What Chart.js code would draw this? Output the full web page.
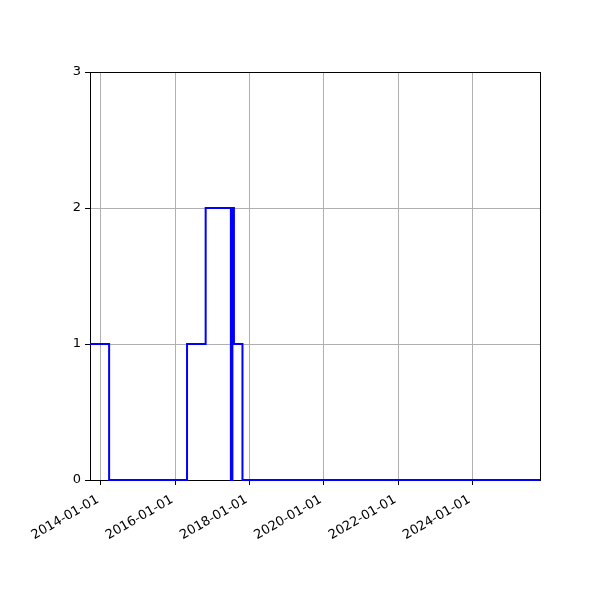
<!DOCTYPE html>
<html>
<head>
<meta charset="utf-8">
<script src="https://cdn.jsdelivr.net/npm/chart.js@4.4.0/dist/chart.umd.min.js"></script>
<style>
    body { margin: 0; background: #ffffff; }
    #stepChart { display: block; }
</style>
</head>
<body>
<canvas id="stepChart" width="600" height="600"></canvas>
<script>
// step data: each value holds from its date until the next date
var stepDates = ['2013-09-15', '2014-03-22', '2016-04-26', '2016-10-26', '2017-07-01', '2017-07-16', '2017-07-31', '2017-10-23', '2025-10-26'];
var stepValues = [1, 0, 1, 2, 0, 2, 1, 0, 0];

// axis ticks
var xTickDates = ['2014-01-01', '2016-01-01', '2018-01-01', '2020-01-01', '2022-01-01', '2024-01-01'];
var yTickValues = [0, 1, 2, 3];
var xMinDate = '2013-09-15';
var xMaxDate = '2025-10-26';

function toMs(d) {
    return Date.parse(d + 'T00:00:00Z');
}

function formatDate(ms) {
    var d = new Date(ms);
    var m = d.getUTCMonth() + 1;
    var day = d.getUTCDate();
    return d.getUTCFullYear() + '-' + (m < 10 ? '0' + m : m) + '-' + (day < 10 ? '0' + day : day);
}

var points = [];
for (var i = 0; i < stepDates.length; i++) {
    points.push({ x: toMs(stepDates[i]), y: stepValues[i] });
}

// black frame round the plot area
var framePlugin = {
    id: 'frame',
    beforeDatasetsDraw: function (chart) {
        var a = chart.chartArea;
        var ctx = chart.ctx;
        ctx.save();
        ctx.strokeStyle = '#000000';
        ctx.lineWidth = 1;
        ctx.strokeRect(Math.round(a.left) + 0.5, Math.round(a.top) + 0.5, Math.round(a.right - a.left), Math.round(a.bottom - a.top));
        ctx.restore();
    }
};

var ctx = document.getElementById('stepChart').getContext('2d');
var stepChart = new Chart(ctx, {
    type: 'line',
    data: {
        datasets: [{
            data: points,
            stepped: 'before',
            borderColor: '#0000ff',
            borderWidth: 2,
            pointRadius: 0,
            fill: false,
            clip: false
        }]
    },
    options: {
        responsive: false,
        animation: false,
        layout: { padding: { top: 72, right: 60, left: 0, bottom: 0 } },
        plugins: {
            legend: { display: false },
            tooltip: { enabled: false }
        },
        scales: {
            x: {
                type: 'linear',
                min: toMs(xMinDate),
                max: toMs(xMaxDate),
                afterBuildTicks: function (scale) {
                    scale.ticks = xTickDates.map(function (d) { return { value: toMs(d) }; });
                },
                afterFit: function (scale) { scale.height = 120; },
                ticks: {
                    autoSkip: false,
                    maxRotation: 30,
                    minRotation: 30,
                    padding: 7,
                    labelOffset: -3,
                    color: '#000000',
                    font: { family: 'DejaVu Sans', size: 13 },
                    callback: function (value) { return formatDate(value); }
                },
                grid: {
                    color: '#b0b0b0',
                    tickColor: '#000000',
                    tickLength: 5,
                    lineWidth: 1
                },
                border: { display: false }
            },
            y: {
                type: 'linear',
                min: 0,
                max: 3,
                afterBuildTicks: function (scale) {
                    scale.ticks = yTickValues.map(function (v) { return { value: v }; });
                },
                afterFit: function (scale) { scale.width = 90; },
                ticks: {
                    padding: 4,
                    color: '#000000',
                    font: { family: 'DejaVu Sans', size: 13 }
                },
                grid: {
                    color: '#b0b0b0',
                    tickColor: '#000000',
                    tickLength: 5,
                    lineWidth: 1
                },
                border: { display: false }
            }
        }
    },
    plugins: [framePlugin]
});
</script>
</body>
</html>
